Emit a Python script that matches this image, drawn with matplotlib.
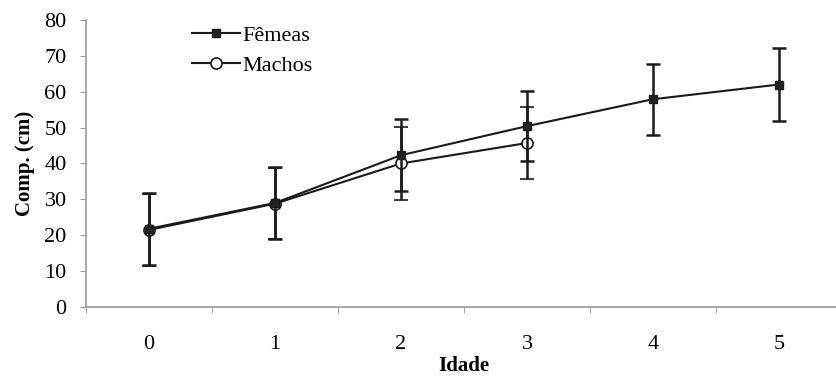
import numpy as np
import matplotlib
matplotlib.use("Agg")
import matplotlib.pyplot as plt
from matplotlib.lines import Line2D

plt.rcParams['font.family'] = ['Liberation Serif', 'DejaVu Serif']

idade = [0, 1, 2, 3, 4, 5]
femeas = [21.8, 29.0, 42.3, 50.4, 57.9, 62.0]
femeas_err = [10.0, 10.0, 10.1, 9.8, 9.9, 10.1]
idade_m = [0, 1, 2, 3]
machos = [21.5, 28.8, 40.0, 45.7]
machos_err = [10.0, 9.8, 10.1, 9.9]

fig = plt.figure(figsize=(8.36, 3.76), dpi=100)
ax = fig.add_axes([0.103, 0.1835, 0.904, 0.7635])

ax.errorbar(idade_m, machos, yerr=machos_err, color='#1a1a1a', lw=1.5,
            marker='o', ms=8, mfc='white', mec='#1a1a1a', mew=1.2,
            elinewidth=1.8, capsize=5, capthick=1.8, label='Machos', zorder=2)
ax.errorbar(idade, femeas, yerr=femeas_err, color='#1a1a1a', lw=1.5,
            marker='s', ms=6, mfc='#222222', mec='#1a1a1a',
            elinewidth=1.8, capsize=5, capthick=1.8, label='Fêmeas', zorder=3)

ax.set_xlim(-0.5, 5.5)
ax.set_ylim(0, 80)
ax.set_yticks(np.arange(0, 81, 10))
ax.set_xticks(idade)
ax.set_xticks(np.arange(-0.5, 5.6, 1), minor=True)
ax.tick_params(axis='x', which='major', length=0, pad=20, labelsize=16)
ax.tick_params(axis='x', which='minor', length=4, color='#999999', direction='out')
ax.tick_params(axis='y', length=4, color='#999999', labelsize=16, pad=10)

for s in ['top', 'right']:
    ax.spines[s].set_visible(False)
for s in ['left', 'bottom']:
    ax.spines[s].set_color('#999999')
    ax.spines[s].set_linewidth(1.2)

ax.set_ylabel('Comp. (cm)', fontsize=15, fontweight='bold', labelpad=7)
ax.set_xlabel('Idade', fontsize=15, fontweight='bold')
ax.xaxis.set_label_coords(0.5, -0.205)
ax.xaxis.label.set_va('center')

h_f = Line2D([], [], color='#1a1a1a', lw=1.5, marker='s', ms=6, mfc='#222222')
h_m = Line2D([], [], color='#1a1a1a', lw=1.5, marker='o', ms=8, mfc='white', mew=1.2)
ax.legend([h_f, h_m], ['Fêmeas', 'Machos'], loc='upper left',
          bbox_to_anchor=(0.113, 1.05), frameon=False, fontsize=16,
          handlelength=2.2, handletextpad=0.1, labelspacing=0.4)

fig.savefig('out.png', dpi=100)
